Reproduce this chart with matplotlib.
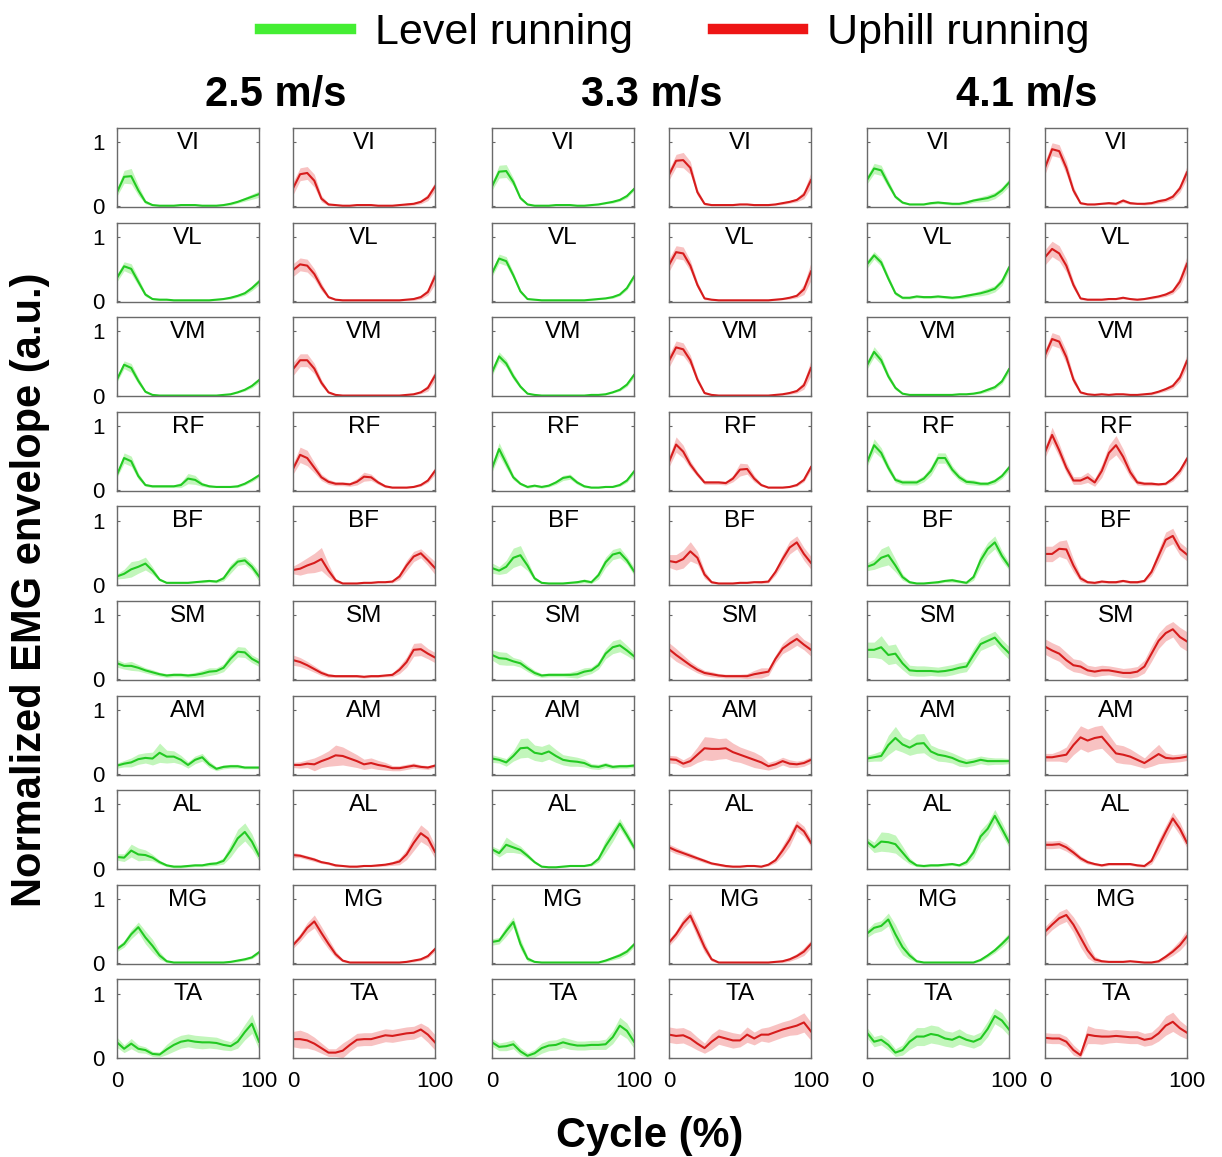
import matplotlib
matplotlib.use('Agg')
import matplotlib.pyplot as plt
from matplotlib.lines import Line2D
import numpy as np

plt.rcParams['font.family'] = ['Liberation Sans', 'DejaVu Sans']

# ---------------- data ----------------
cycle = list(range(0, 101, 5))
speeds = ['2.5 m/s', '3.3 m/s', '4.1 m/s']
conditions = ['Level running', 'Uphill running']
muscles = ['VI', 'VL', 'VM', 'RF', 'BF', 'SM', 'AM', 'AL', 'MG', 'TA']
# each muscle: 6 columns -> 2.5 level, 2.5 uphill, 3.3 level, 3.3 uphill, 4.1 level, 4.1 uphill

VI_mean = [
    [0.22,0.46,0.47,0.25,0.07,0.02,0.01,0.01,0.01,0.02,0.02,0.02,0.01,0.01,0.01,0.02,0.04,0.07,0.11,0.15,0.19],
    [0.28,0.50,0.52,0.40,0.12,0.03,0.02,0.01,0.01,0.02,0.02,0.02,0.01,0.01,0.01,0.02,0.03,0.04,0.07,0.14,0.31],
    [0.31,0.54,0.55,0.38,0.13,0.03,0.01,0.01,0.01,0.02,0.02,0.02,0.01,0.01,0.02,0.03,0.05,0.07,0.10,0.16,0.27],
    [0.49,0.71,0.72,0.60,0.22,0.04,0.02,0.02,0.02,0.02,0.03,0.03,0.02,0.02,0.02,0.03,0.05,0.07,0.10,0.18,0.41],
    [0.41,0.59,0.56,0.35,0.15,0.06,0.03,0.03,0.03,0.05,0.06,0.05,0.04,0.04,0.06,0.09,0.11,0.13,0.17,0.25,0.37],
    [0.60,0.89,0.86,0.60,0.25,0.05,0.03,0.03,0.04,0.05,0.04,0.09,0.05,0.04,0.04,0.05,0.08,0.10,0.15,0.28,0.53],
]
VI_sd = [
    [0.06,0.10,0.12,0.08,0.03,0.01,0.01,0.01,0.01,0.01,0.01,0.01,0.01,0.01,0.01,0.01,0.02,0.02,0.03,0.04,0.05],
    [0.10,0.10,0.10,0.10,0.05,0.02,0.01,0.01,0.01,0.01,0.01,0.01,0.01,0.01,0.01,0.01,0.02,0.02,0.03,0.05,0.07],
    [0.06,0.10,0.10,0.06,0.03,0.01,0.01,0.01,0.01,0.01,0.01,0.01,0.01,0.01,0.01,0.01,0.01,0.02,0.02,0.03,0.03],
    [0.08,0.10,0.12,0.10,0.05,0.02,0.01,0.01,0.01,0.01,0.01,0.01,0.01,0.01,0.01,0.01,0.02,0.02,0.03,0.06,0.12],
    [0.06,0.08,0.08,0.06,0.03,0.02,0.01,0.01,0.01,0.02,0.02,0.02,0.02,0.02,0.03,0.03,0.04,0.05,0.05,0.05,0.06],
    [0.10,0.10,0.10,0.10,0.06,0.02,0.01,0.01,0.01,0.02,0.02,0.03,0.02,0.01,0.02,0.02,0.03,0.03,0.04,0.06,0.10],
]

VL_mean = [
    [0.36,0.54,0.50,0.30,0.10,0.03,0.02,0.02,0.01,0.01,0.01,0.01,0.01,0.01,0.02,0.03,0.05,0.08,0.12,0.20,0.30],
    [0.48,0.57,0.55,0.42,0.22,0.06,0.02,0.01,0.01,0.01,0.01,0.01,0.01,0.01,0.01,0.01,0.02,0.03,0.06,0.14,0.38],
    [0.43,0.66,0.62,0.40,0.15,0.03,0.02,0.01,0.01,0.01,0.01,0.01,0.01,0.01,0.02,0.03,0.04,0.06,0.10,0.20,0.38],
    [0.56,0.76,0.74,0.55,0.25,0.04,0.02,0.01,0.01,0.01,0.01,0.01,0.01,0.01,0.01,0.02,0.03,0.05,0.08,0.18,0.46],
    [0.57,0.71,0.60,0.35,0.12,0.05,0.05,0.07,0.06,0.06,0.07,0.06,0.05,0.06,0.08,0.10,0.12,0.15,0.19,0.30,0.52],
    [0.68,0.81,0.74,0.55,0.25,0.04,0.02,0.02,0.02,0.03,0.03,0.05,0.03,0.02,0.03,0.05,0.07,0.10,0.15,0.30,0.58],
]
VL_sd = [
    [0.06,0.07,0.08,0.06,0.03,0.01,0.01,0.01,0.01,0.01,0.01,0.01,0.01,0.01,0.01,0.01,0.02,0.02,0.03,0.04,0.05],
    [0.10,0.10,0.10,0.08,0.06,0.02,0.01,0.01,0.01,0.01,0.01,0.01,0.01,0.01,0.01,0.01,0.01,0.02,0.03,0.05,0.12],
    [0.05,0.07,0.07,0.05,0.03,0.01,0.01,0.01,0.01,0.01,0.01,0.01,0.01,0.01,0.01,0.01,0.01,0.02,0.02,0.03,0.04],
    [0.10,0.10,0.10,0.08,0.05,0.02,0.01,0.01,0.01,0.01,0.01,0.01,0.01,0.01,0.01,0.01,0.01,0.02,0.03,0.08,0.14],
    [0.06,0.06,0.06,0.05,0.03,0.02,0.02,0.02,0.02,0.02,0.02,0.02,0.02,0.02,0.03,0.03,0.04,0.05,0.05,0.06,0.06],
    [0.12,0.12,0.12,0.10,0.06,0.02,0.01,0.01,0.01,0.01,0.01,0.02,0.01,0.01,0.01,0.02,0.02,0.03,0.04,0.08,0.12],
]

VM_mean = [
    [0.25,0.48,0.43,0.23,0.06,0.01,0.00,0.00,0.00,0.00,0.00,0.00,0.00,0.00,0.00,0.01,0.02,0.05,0.09,0.15,0.24],
    [0.41,0.55,0.55,0.42,0.20,0.05,0.01,0.00,0.00,0.00,0.00,0.00,0.00,0.00,0.00,0.00,0.01,0.02,0.05,0.12,0.31],
    [0.36,0.61,0.50,0.30,0.14,0.03,0.01,0.00,0.00,0.00,0.00,0.00,0.00,0.00,0.01,0.01,0.02,0.05,0.09,0.17,0.32],
    [0.54,0.75,0.72,0.55,0.25,0.04,0.01,0.00,0.00,0.00,0.00,0.00,0.00,0.00,0.00,0.01,0.02,0.04,0.07,0.16,0.43],
    [0.47,0.68,0.55,0.30,0.12,0.03,0.01,0.01,0.01,0.01,0.01,0.01,0.01,0.02,0.02,0.03,0.05,0.09,0.13,0.22,0.41],
    [0.63,0.88,0.84,0.60,0.25,0.05,0.02,0.01,0.02,0.01,0.02,0.02,0.01,0.01,0.02,0.03,0.06,0.10,0.15,0.28,0.54],
]
VM_sd = [
    [0.04,0.06,0.07,0.05,0.02,0.01,0.00,0.00,0.00,0.00,0.00,0.00,0.00,0.00,0.00,0.01,0.01,0.01,0.02,0.03,0.04],
    [0.10,0.10,0.10,0.08,0.05,0.02,0.01,0.00,0.00,0.00,0.00,0.00,0.00,0.00,0.00,0.00,0.01,0.01,0.02,0.05,0.08],
    [0.05,0.07,0.06,0.05,0.03,0.01,0.01,0.00,0.00,0.00,0.00,0.00,0.00,0.00,0.01,0.01,0.01,0.01,0.02,0.03,0.04],
    [0.10,0.10,0.10,0.08,0.05,0.02,0.01,0.00,0.00,0.00,0.00,0.00,0.00,0.00,0.00,0.01,0.01,0.02,0.03,0.06,0.12],
    [0.06,0.08,0.07,0.05,0.03,0.01,0.01,0.01,0.01,0.01,0.01,0.01,0.01,0.01,0.01,0.01,0.02,0.03,0.03,0.04,0.05],
    [0.08,0.10,0.10,0.10,0.06,0.02,0.01,0.01,0.01,0.01,0.01,0.01,0.01,0.01,0.01,0.02,0.02,0.03,0.04,0.06,0.10],
]

RF_mean = [
    [0.24,0.50,0.45,0.22,0.08,0.06,0.06,0.06,0.06,0.08,0.18,0.16,0.09,0.06,0.05,0.05,0.05,0.06,0.10,0.16,0.23],
    [0.33,0.55,0.50,0.35,0.20,0.13,0.10,0.10,0.09,0.13,0.21,0.20,0.12,0.06,0.04,0.04,0.04,0.05,0.08,0.15,0.30],
    [0.34,0.64,0.42,0.20,0.10,0.05,0.07,0.05,0.07,0.12,0.19,0.21,0.12,0.06,0.04,0.04,0.05,0.05,0.08,0.15,0.29],
    [0.44,0.71,0.60,0.40,0.25,0.12,0.12,0.12,0.11,0.18,0.32,0.33,0.18,0.08,0.04,0.04,0.04,0.05,0.08,0.16,0.36],
    [0.43,0.70,0.58,0.35,0.16,0.12,0.12,0.12,0.18,0.30,0.50,0.50,0.32,0.20,0.13,0.12,0.10,0.10,0.14,0.22,0.35],
    [0.59,0.86,0.62,0.35,0.15,0.15,0.20,0.12,0.30,0.58,0.70,0.52,0.28,0.12,0.10,0.10,0.09,0.10,0.18,0.30,0.49],
]
RF_sd = [
    [0.04,0.08,0.08,0.05,0.02,0.02,0.02,0.02,0.02,0.04,0.08,0.07,0.03,0.02,0.01,0.01,0.01,0.02,0.02,0.03,0.03],
    [0.08,0.12,0.12,0.08,0.05,0.04,0.03,0.03,0.03,0.05,0.07,0.05,0.03,0.02,0.01,0.01,0.01,0.01,0.02,0.03,0.06],
    [0.06,0.10,0.08,0.04,0.02,0.02,0.02,0.02,0.02,0.03,0.04,0.04,0.03,0.02,0.01,0.01,0.01,0.01,0.02,0.03,0.04],
    [0.08,0.12,0.10,0.06,0.04,0.03,0.03,0.03,0.03,0.05,0.10,0.08,0.05,0.02,0.01,0.01,0.01,0.01,0.02,0.03,0.05],
    [0.06,0.10,0.08,0.06,0.04,0.04,0.04,0.04,0.05,0.07,0.08,0.08,0.06,0.05,0.04,0.04,0.03,0.03,0.04,0.04,0.05],
    [0.08,0.12,0.10,0.08,0.06,0.06,0.08,0.06,0.10,0.12,0.15,0.12,0.08,0.04,0.03,0.03,0.02,0.02,0.04,0.05,0.06],
]

BF_mean = [
    [0.13,0.17,0.24,0.28,0.33,0.22,0.08,0.03,0.03,0.03,0.03,0.04,0.05,0.06,0.05,0.10,0.25,0.36,0.38,0.28,0.13],
    [0.23,0.25,0.30,0.34,0.40,0.22,0.07,0.02,0.02,0.02,0.03,0.03,0.04,0.04,0.05,0.13,0.30,0.44,0.49,0.38,0.26],
    [0.26,0.22,0.28,0.42,0.46,0.30,0.10,0.03,0.02,0.02,0.02,0.03,0.04,0.06,0.04,0.15,0.35,0.47,0.50,0.38,0.21],
    [0.37,0.35,0.40,0.52,0.42,0.16,0.04,0.02,0.02,0.02,0.03,0.03,0.04,0.04,0.05,0.20,0.40,0.58,0.66,0.48,0.34],
    [0.28,0.32,0.42,0.46,0.30,0.12,0.04,0.02,0.02,0.03,0.04,0.06,0.07,0.05,0.03,0.12,0.38,0.56,0.66,0.45,0.29],
    [0.48,0.48,0.56,0.55,0.30,0.10,0.04,0.03,0.05,0.04,0.04,0.06,0.04,0.04,0.06,0.20,0.45,0.70,0.76,0.56,0.47],
]
BF_sd = [
    [0.04,0.07,0.12,0.10,0.10,0.06,0.02,0.01,0.01,0.01,0.01,0.01,0.02,0.02,0.02,0.04,0.07,0.06,0.06,0.06,0.08],
    [0.06,0.10,0.12,0.15,0.18,0.10,0.03,0.01,0.01,0.01,0.01,0.01,0.01,0.01,0.02,0.05,0.08,0.08,0.07,0.08,0.10],
    [0.08,0.06,0.10,0.15,0.15,0.08,0.03,0.01,0.01,0.01,0.01,0.01,0.02,0.03,0.02,0.06,0.08,0.08,0.08,0.06,0.06],
    [0.10,0.12,0.14,0.15,0.10,0.06,0.02,0.01,0.01,0.01,0.01,0.01,0.01,0.02,0.02,0.05,0.08,0.10,0.10,0.10,0.10],
    [0.06,0.08,0.14,0.15,0.10,0.05,0.02,0.01,0.01,0.01,0.02,0.02,0.03,0.02,0.02,0.05,0.10,0.10,0.10,0.08,0.06],
    [0.12,0.12,0.12,0.15,0.10,0.05,0.02,0.02,0.02,0.02,0.02,0.02,0.02,0.02,0.02,0.06,0.10,0.12,0.12,0.10,0.10],
]

SM_mean = [
    [0.25,0.21,0.21,0.18,0.14,0.11,0.08,0.06,0.07,0.07,0.06,0.07,0.09,0.12,0.13,0.18,0.32,0.43,0.42,0.32,0.26],
    [0.30,0.27,0.22,0.16,0.10,0.06,0.05,0.05,0.05,0.05,0.04,0.05,0.05,0.06,0.07,0.15,0.27,0.46,0.47,0.40,0.34],
    [0.38,0.33,0.32,0.28,0.25,0.17,0.10,0.06,0.07,0.07,0.07,0.07,0.08,0.12,0.14,0.22,0.40,0.50,0.53,0.45,0.36],
    [0.47,0.38,0.30,0.22,0.15,0.10,0.08,0.06,0.05,0.05,0.05,0.05,0.08,0.10,0.12,0.32,0.48,0.56,0.63,0.54,0.46],
    [0.46,0.46,0.50,0.38,0.40,0.25,0.14,0.13,0.13,0.13,0.12,0.13,0.15,0.18,0.20,0.38,0.55,0.60,0.65,0.52,0.41],
    [0.51,0.45,0.40,0.30,0.22,0.20,0.14,0.12,0.14,0.14,0.12,0.10,0.10,0.12,0.20,0.40,0.60,0.72,0.78,0.66,0.59],
]
SM_sd = [
    [0.06,0.05,0.07,0.05,0.04,0.04,0.03,0.03,0.03,0.03,0.03,0.04,0.05,0.06,0.05,0.06,0.08,0.08,0.08,0.06,0.06],
    [0.08,0.07,0.06,0.05,0.04,0.03,0.02,0.02,0.02,0.02,0.02,0.02,0.02,0.02,0.03,0.06,0.08,0.10,0.10,0.08,0.08],
    [0.08,0.10,0.10,0.06,0.06,0.05,0.04,0.03,0.03,0.03,0.03,0.04,0.06,0.06,0.05,0.06,0.08,0.10,0.10,0.08,0.06],
    [0.10,0.10,0.08,0.06,0.05,0.04,0.04,0.03,0.03,0.03,0.03,0.04,0.06,0.08,0.06,0.06,0.08,0.10,0.10,0.08,0.10],
    [0.12,0.12,0.18,0.15,0.15,0.10,0.08,0.08,0.08,0.07,0.07,0.08,0.08,0.08,0.08,0.10,0.10,0.10,0.10,0.10,0.10],
    [0.12,0.12,0.12,0.12,0.10,0.10,0.08,0.08,0.08,0.07,0.07,0.07,0.08,0.08,0.10,0.12,0.12,0.12,0.12,0.15,0.15],
]

AM_mean = [
    [0.13,0.16,0.18,0.23,0.25,0.24,0.33,0.27,0.27,0.22,0.14,0.22,0.26,0.15,0.08,0.11,0.12,0.12,0.10,0.10,0.10],
    [0.14,0.14,0.16,0.15,0.20,0.24,0.29,0.28,0.24,0.20,0.15,0.17,0.14,0.12,0.09,0.09,0.11,0.13,0.11,0.10,0.13],
    [0.24,0.22,0.18,0.28,0.40,0.41,0.33,0.31,0.35,0.28,0.22,0.20,0.19,0.17,0.12,0.11,0.14,0.11,0.12,0.12,0.13],
    [0.23,0.22,0.16,0.20,0.30,0.40,0.39,0.39,0.40,0.34,0.30,0.26,0.22,0.18,0.12,0.15,0.20,0.16,0.15,0.17,0.22],
    [0.24,0.26,0.28,0.45,0.56,0.46,0.41,0.47,0.48,0.35,0.30,0.28,0.25,0.20,0.17,0.19,0.22,0.20,0.20,0.20,0.20],
    [0.26,0.26,0.28,0.30,0.45,0.57,0.52,0.56,0.58,0.45,0.32,0.30,0.27,0.22,0.17,0.24,0.31,0.25,0.24,0.25,0.27],
]
AM_sd = [
    [0.04,0.05,0.07,0.08,0.08,0.10,0.15,0.10,0.09,0.07,0.05,0.06,0.06,0.05,0.03,0.03,0.03,0.03,0.02,0.02,0.02],
    [0.04,0.05,0.06,0.10,0.10,0.12,0.16,0.14,0.12,0.10,0.08,0.08,0.07,0.06,0.04,0.04,0.04,0.04,0.03,0.03,0.03],
    [0.06,0.05,0.06,0.08,0.15,0.15,0.12,0.12,0.12,0.10,0.08,0.08,0.07,0.06,0.04,0.04,0.04,0.03,0.03,0.03,0.03],
    [0.06,0.06,0.06,0.08,0.12,0.18,0.18,0.16,0.16,0.14,0.12,0.12,0.12,0.10,0.06,0.06,0.06,0.06,0.05,0.05,0.05],
    [0.05,0.06,0.08,0.15,0.18,0.12,0.12,0.15,0.15,0.10,0.10,0.09,0.08,0.08,0.06,0.06,0.06,0.06,0.05,0.05,0.04],
    [0.06,0.06,0.08,0.12,0.15,0.18,0.18,0.18,0.18,0.16,0.14,0.14,0.12,0.10,0.08,0.12,0.15,0.08,0.06,0.06,0.06],
]

AL_mean = [
    [0.18,0.17,0.28,0.22,0.21,0.17,0.10,0.05,0.03,0.03,0.04,0.05,0.05,0.07,0.08,0.12,0.28,0.47,0.57,0.42,0.20],
    [0.21,0.20,0.17,0.14,0.10,0.08,0.05,0.04,0.03,0.03,0.04,0.04,0.05,0.06,0.08,0.11,0.22,0.40,0.55,0.47,0.26],
    [0.30,0.24,0.37,0.33,0.29,0.20,0.10,0.03,0.02,0.02,0.03,0.04,0.04,0.04,0.06,0.15,0.35,0.52,0.70,0.52,0.33],
    [0.33,0.28,0.24,0.20,0.16,0.12,0.08,0.06,0.04,0.03,0.03,0.04,0.04,0.03,0.06,0.13,0.28,0.45,0.67,0.58,0.40],
    [0.42,0.33,0.42,0.41,0.38,0.25,0.12,0.05,0.04,0.05,0.05,0.06,0.07,0.05,0.10,0.25,0.50,0.62,0.82,0.62,0.41],
    [0.37,0.37,0.38,0.33,0.25,0.16,0.10,0.07,0.05,0.07,0.07,0.07,0.07,0.05,0.04,0.12,0.35,0.57,0.78,0.62,0.40],
]
AL_sd = [
    [0.05,0.06,0.10,0.10,0.08,0.05,0.03,0.02,0.02,0.02,0.02,0.02,0.02,0.03,0.03,0.05,0.10,0.14,0.14,0.12,0.08],
    [0.04,0.03,0.03,0.03,0.02,0.02,0.02,0.01,0.01,0.01,0.01,0.01,0.02,0.02,0.03,0.05,0.08,0.12,0.13,0.12,0.10],
    [0.05,0.06,0.12,0.08,0.06,0.04,0.02,0.01,0.01,0.01,0.01,0.01,0.01,0.01,0.02,0.05,0.10,0.10,0.08,0.07,0.06],
    [0.05,0.05,0.04,0.04,0.03,0.03,0.02,0.02,0.02,0.01,0.01,0.01,0.01,0.01,0.02,0.04,0.08,0.10,0.08,0.08,0.06],
    [0.06,0.08,0.15,0.15,0.14,0.10,0.05,0.02,0.02,0.02,0.02,0.02,0.02,0.02,0.04,0.08,0.10,0.10,0.10,0.10,0.08],
    [0.06,0.06,0.06,0.06,0.05,0.04,0.03,0.02,0.02,0.02,0.02,0.02,0.02,0.02,0.02,0.05,0.10,0.10,0.10,0.10,0.08],
]

MG_mean = [
    [0.22,0.30,0.45,0.56,0.40,0.27,0.12,0.03,0.01,0.01,0.01,0.01,0.01,0.01,0.01,0.01,0.02,0.04,0.06,0.09,0.17],
    [0.28,0.40,0.55,0.65,0.47,0.30,0.14,0.04,0.01,0.01,0.01,0.01,0.01,0.01,0.01,0.01,0.02,0.04,0.06,0.11,0.22],
    [0.33,0.35,0.50,0.64,0.30,0.07,0.02,0.01,0.01,0.01,0.01,0.01,0.01,0.01,0.01,0.01,0.04,0.08,0.12,0.18,0.29],
    [0.32,0.45,0.62,0.74,0.50,0.25,0.06,0.01,0.01,0.01,0.01,0.01,0.01,0.01,0.01,0.02,0.03,0.06,0.11,0.18,0.30],
    [0.46,0.55,0.58,0.68,0.45,0.25,0.12,0.03,0.01,0.01,0.01,0.01,0.01,0.01,0.01,0.01,0.05,0.12,0.20,0.30,0.41],
    [0.49,0.60,0.70,0.75,0.60,0.40,0.20,0.06,0.03,0.02,0.02,0.02,0.03,0.02,0.01,0.01,0.03,0.10,0.18,0.28,0.42],
]
MG_sd = [
    [0.04,0.05,0.07,0.08,0.10,0.10,0.06,0.02,0.01,0.01,0.01,0.01,0.01,0.01,0.01,0.01,0.01,0.02,0.02,0.02,0.03],
    [0.05,0.06,0.08,0.10,0.10,0.08,0.05,0.02,0.01,0.01,0.01,0.01,0.01,0.01,0.01,0.01,0.01,0.02,0.02,0.03,0.04],
    [0.05,0.05,0.08,0.08,0.08,0.04,0.01,0.01,0.01,0.01,0.01,0.01,0.01,0.01,0.01,0.01,0.02,0.03,0.04,0.04,0.04],
    [0.05,0.06,0.08,0.08,0.10,0.08,0.03,0.01,0.01,0.01,0.01,0.01,0.01,0.01,0.01,0.01,0.02,0.03,0.04,0.06,0.06],
    [0.06,0.08,0.08,0.10,0.15,0.12,0.06,0.02,0.01,0.01,0.01,0.01,0.01,0.01,0.01,0.01,0.02,0.03,0.04,0.05,0.06],
    [0.08,0.08,0.10,0.10,0.12,0.15,0.12,0.05,0.02,0.01,0.01,0.01,0.01,0.01,0.01,0.01,0.02,0.04,0.06,0.08,0.10],
]

TA_mean = [
    [0.24,0.14,0.22,0.14,0.12,0.06,0.05,0.13,0.20,0.25,0.27,0.25,0.24,0.24,0.23,0.20,0.18,0.25,0.40,0.53,0.25],
    [0.29,0.29,0.27,0.22,0.15,0.08,0.08,0.11,0.20,0.28,0.29,0.29,0.32,0.35,0.34,0.36,0.38,0.39,0.44,0.36,0.24],
    [0.24,0.17,0.18,0.21,0.10,0.03,0.07,0.15,0.19,0.20,0.24,0.21,0.19,0.19,0.20,0.20,0.21,0.32,0.50,0.42,0.25],
    [0.36,0.34,0.35,0.30,0.22,0.15,0.25,0.33,0.30,0.27,0.27,0.36,0.30,0.36,0.36,0.40,0.44,0.47,0.50,0.55,0.41],
    [0.39,0.25,0.28,0.20,0.08,0.12,0.25,0.33,0.33,0.37,0.35,0.30,0.28,0.33,0.28,0.25,0.30,0.45,0.65,0.58,0.44],
    [0.31,0.30,0.30,0.25,0.12,0.04,0.36,0.34,0.33,0.33,0.34,0.33,0.32,0.32,0.28,0.30,0.38,0.50,0.56,0.46,0.39],
]
TA_sd = [
    [0.08,0.06,0.08,0.06,0.05,0.04,0.04,0.08,0.10,0.10,0.10,0.10,0.10,0.09,0.09,0.08,0.07,0.10,0.12,0.15,0.12],
    [0.12,0.14,0.12,0.10,0.08,0.06,0.06,0.12,0.10,0.10,0.10,0.10,0.10,0.10,0.10,0.10,0.10,0.10,0.10,0.12,0.12],
    [0.06,0.06,0.07,0.07,0.06,0.05,0.06,0.08,0.08,0.08,0.08,0.08,0.07,0.07,0.07,0.07,0.08,0.10,0.13,0.12,0.10],
    [0.12,0.12,0.12,0.12,0.10,0.08,0.12,0.12,0.12,0.12,0.10,0.12,0.10,0.10,0.12,0.12,0.12,0.12,0.14,0.15,0.14],
    [0.08,0.08,0.08,0.08,0.06,0.08,0.12,0.14,0.14,0.14,0.14,0.12,0.12,0.12,0.10,0.10,0.10,0.12,0.12,0.12,0.10],
    [0.08,0.08,0.08,0.08,0.08,0.06,0.14,0.12,0.12,0.10,0.10,0.10,0.10,0.10,0.10,0.10,0.12,0.15,0.15,0.12,0.10],
]

means = [VI_mean, VL_mean, VM_mean, RF_mean, BF_mean, SM_mean, AM_mean, AL_mean, MG_mean, TA_mean]
sds = [VI_sd, VL_sd, VM_sd, RF_sd, BF_sd, SM_sd, AM_sd, AL_sd, MG_sd, TA_sd]

# ---------------- style / layout ----------------
W, H = 1222, 1157
fig = plt.figure(figsize=(W / 100, H / 100), dpi=100)

line_colors = ['#22c922', '#d61c1c']
band_colors = ['#c2f6bb', '#f8c2c2']
legend_colors = ['#44ee33', '#ee1515']

col_left = [117, 293, 492, 669, 867, 1045]
ax_w = 142
row_top0, row_step, ax_h = 128, 94.6, 79

x = np.array(cycle)
for r, mus in enumerate(muscles):
    top = row_top0 + r * row_step
    for c in range(6):
        ax = fig.add_axes([col_left[c] / W, 1 - (top + ax_h) / H, ax_w / W, ax_h / H])
        m = np.array(means[r][c])
        s = np.array(sds[r][c])
        k = c % 2
        ax.fill_between(x, np.clip(m - s, 0, None), m + s, color=band_colors[k], lw=0)
        ax.plot(x, m, color=line_colors[k], lw=1.5)
        ax.set_xlim(0, 100)
        ax.set_ylim(-0.01, 1.22)
        ax.set_xticks([0, 100])
        ax.set_yticks([0, 1])
        ax.tick_params(direction='in', length=2.5, width=0.8, colors='#666666',
                       top=True, right=True, labelsize=16, labelcolor='black', pad=9)
        if c != 0:
            ax.set_yticklabels([])
        if r != len(muscles) - 1:
            ax.set_xticklabels([])
        for sp in ax.spines.values():
            sp.set_color('#6a6a6a')
            sp.set_linewidth(1.0)
        ax.text(0.5, 0.81, mus, transform=ax.transAxes, ha='center', va='center',
                fontsize=17.5, color='black')

# column titles
for i, sp_label in enumerate(speeds):
    cx = (col_left[2 * i] + col_left[2 * i + 1] + ax_w) / 2
    fig.text(cx / W, 1 - 95 / H, sp_label, ha='center', va='center',
             fontsize=30, fontweight='bold')

# axis labels
fig.text(30 / W, 1 - 590 / H, 'Normalized EMG envelope (a.u.)', rotation=90,
         ha='center', va='center', fontsize=30, fontweight='bold')
fig.text(650 / W, 1 - 1136 / H, 'Cycle (%)', ha='center', va='center',
         fontsize=30, fontweight='bold')

# legend
handles = [Line2D([], [], color=legend_colors[i], lw=7.5) for i in range(2)]
fig.legend(handles, conditions, loc='center', bbox_to_anchor=(675 / W, 1 - 33 / H),
           ncol=2, frameon=False, fontsize=31, handlelength=2.1, handletextpad=0.56,
           columnspacing=1.86, borderpad=0, borderaxespad=0)

fig.savefig('out.png', dpi=100)
